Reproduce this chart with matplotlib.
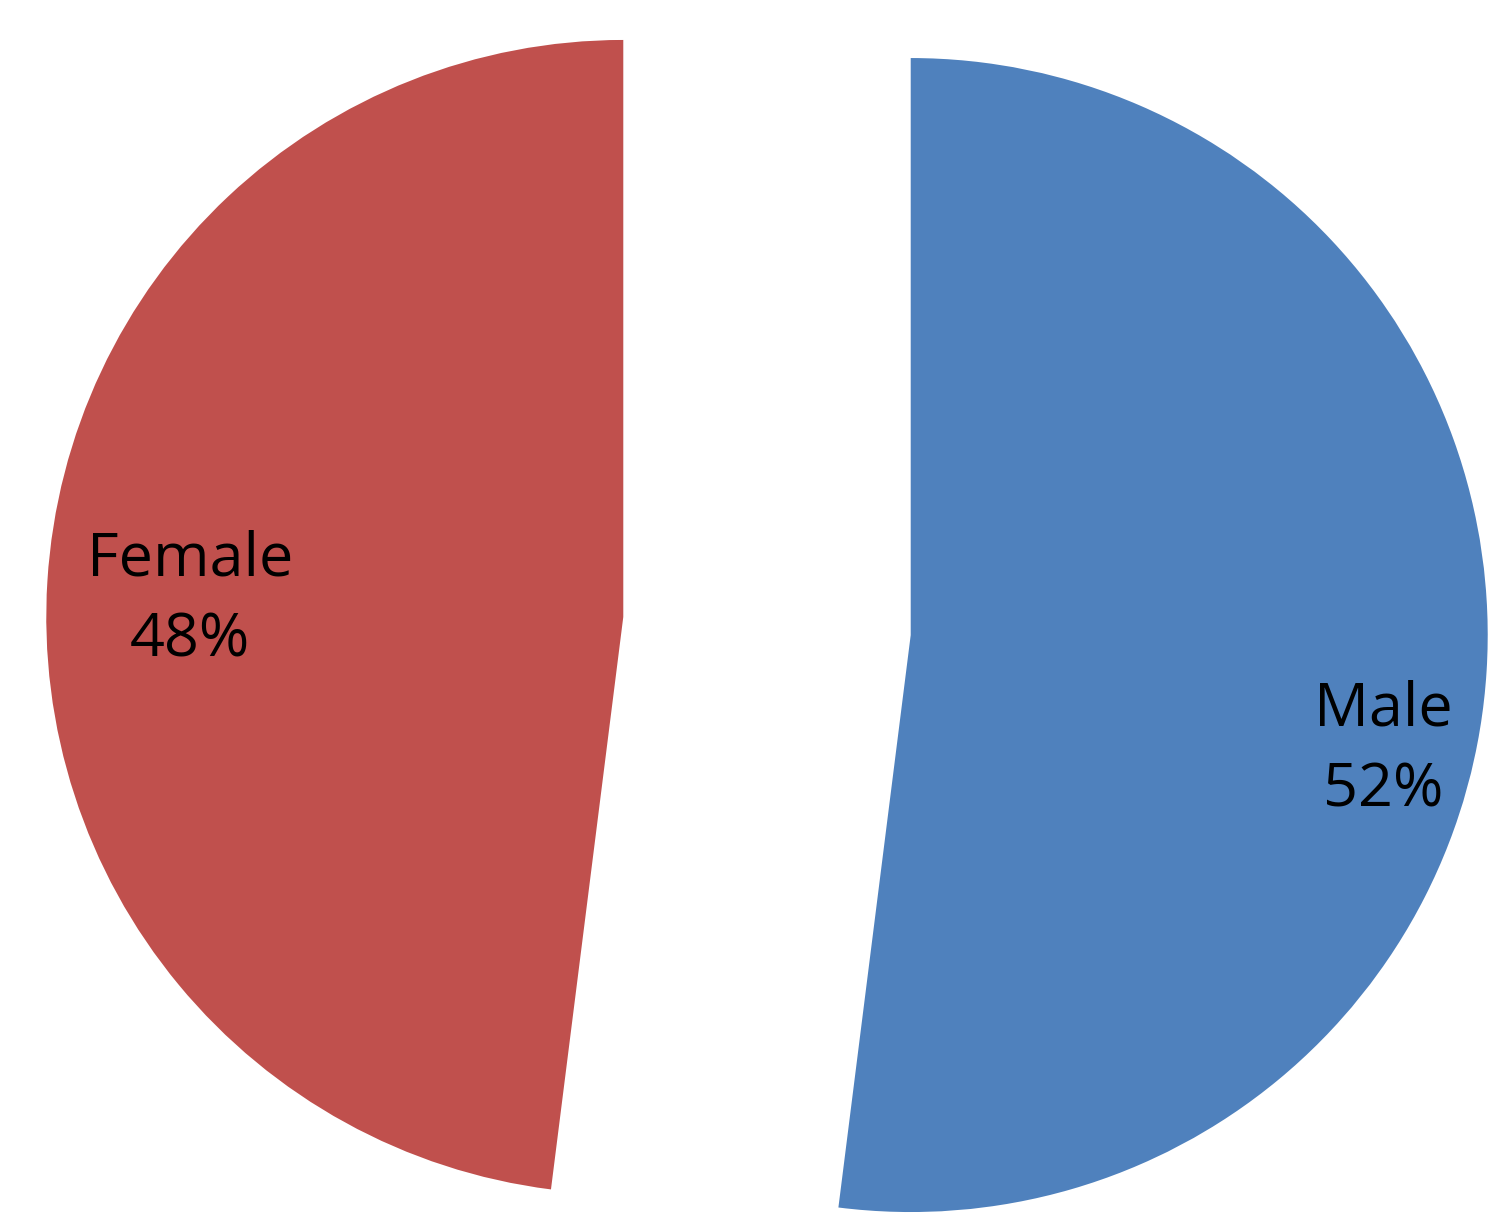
import matplotlib
matplotlib.use("Agg")
import matplotlib.pyplot as plt

# data
labels = ["Male", "Female"]
shares = [52, 48]
colors = ["#4F81BD", "#C0504D"]

plt.rcParams['font.family'] = ['Open Sans', 'DejaVu Sans']

fig = plt.figure(figsize=(15, 12.23), dpi=100)
ax = fig.add_axes([0, 0, 1, 1])

# work in pixel-like units so the layout matches the reference
R = 577
cx, cy = 767, 1223 - 626
off = 144  # pie explode is absolute in data units
wedges, _ = ax.pie(shares, colors=colors, startangle=90, counterclock=False,
                   radius=R, center=(cx, cy), explode=[off, off],
                   wedgeprops=dict(linewidth=0))

label_pos = [(1383, 1223 - 750), (190, 1223 - 600)]
for lab, val, (x, y) in zip(labels, shares, label_pos):
    ax.text(x, y, f"{lab}\n{val}%", ha="center", va="center",
            fontsize=44, color="black", linespacing=1.45)

ax.set_xlim(0, 1500)
ax.set_ylim(0, 1223)
ax.set_aspect("equal")
ax.axis("off")

fig.savefig("out.png", dpi=100, facecolor="white")
